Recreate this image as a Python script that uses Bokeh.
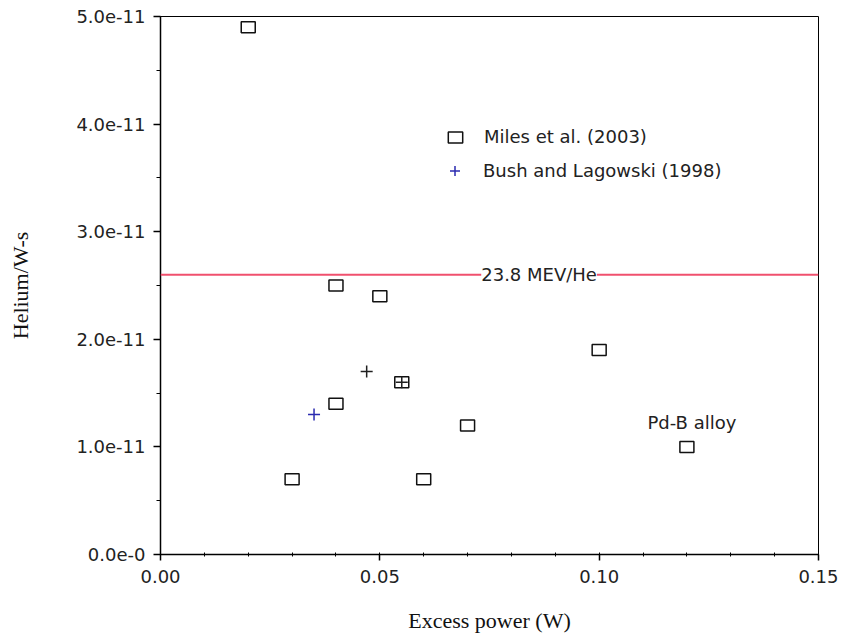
from bokeh.plotting import figure
from bokeh.models import (ColumnDataSource, FixedTicker, Span, Label, Legend,
                          LegendItem, CustomJSTickFormatter)
from bokeh.embed import file_html
from bokeh.resources import INLINE

# ---- data ----
miles_x = [0.02, 0.04, 0.05, 0.04, 0.055, 0.03, 0.06, 0.07, 0.10, 0.12]
miles_y = [4.9e-11, 2.5e-11, 2.4e-11, 1.4e-11, 1.6e-11, 0.7e-11, 0.7e-11, 1.2e-11, 1.9e-11, 1.0e-11]

bush_x = [0.035, 0.047, 0.055]
bush_y = [1.3e-11, 1.7e-11, 1.6e-11]
bush_colors = ["#2b2bb0", "#202020", "#202020"]

he_line_y = 2.6e-11
he_line_label = "23.8 MEV/He"

alloy_label = "Pd-B alloy"
alloy_x = 0.12
alloy_y = 1.0e-11

x_ticks = [0.0, 0.05, 0.10, 0.15]
x_tick_labels = ["0.00", "0.05", "0.10", "0.15"]
x_minor = [0.0, 0.01, 0.02, 0.03, 0.04, 0.05, 0.06, 0.07, 0.08, 0.09, 0.10,
           0.11, 0.12, 0.13, 0.14, 0.15]
y_ticks = [0.0, 1.0e-11, 2.0e-11, 3.0e-11, 4.0e-11, 5.0e-11]
y_tick_labels = ["0.0e-0", "1.0e-11", "2.0e-11", "3.0e-11", "4.0e-11", "5.0e-11"]
y_minor = [0.0, 0.5e-11, 1.0e-11, 1.5e-11, 2.0e-11, 2.5e-11, 3.0e-11, 3.5e-11,
           4.0e-11, 4.5e-11, 5.0e-11]

SANS = "DejaVu Sans"
SERIF = "Liberation Serif"

p = figure(width=838, height=638, x_range=(0, 0.15), y_range=(0, 5e-11),
           output_backend="svg", toolbar_location=None,
           min_border_left=160, min_border_right=20, min_border_top=16,
           min_border_bottom=84)
p.grid.visible = False
p.outline_line_color = "black"
p.outline_line_width = 1
p.background_fill_color = "white"
p.border_fill_color = "white"

fmt_code = """
let best = 0; let bd = Infinity;
for (let i = 0; i < tks.length; i++) {
  const d = Math.abs(tks[i] - tick);
  if (d < bd) { bd = d; best = i; }
}
return lbls[best];
"""

# x axis
xa = p.xaxis[0]
xa.ticker = FixedTicker(ticks=x_ticks, minor_ticks=x_minor)
xa.formatter = CustomJSTickFormatter(args=dict(tks=x_ticks, lbls=x_tick_labels), code=fmt_code)
xa.axis_label = "Excess power (W)"
xa.axis_label_text_font = SERIF
xa.axis_label_text_font_style = "normal"
xa.axis_label_text_font_size = "22px"
xa.axis_label_text_color = "#111111"
xa.axis_label_standoff = 22
xa.major_label_text_font = SANS
xa.major_label_text_font_size = "18px"
xa.major_label_text_color = "#222222"
xa.major_label_standoff = 9
xa.major_tick_out = 6
xa.major_tick_in = 0
xa.minor_tick_out = 2
xa.minor_tick_in = 2
xa.axis_line_width = 1.5
xa.major_tick_line_width = 1.5
xa.minor_tick_line_width = 1

# y axis
ya = p.yaxis[0]
ya.ticker = FixedTicker(ticks=y_ticks, minor_ticks=y_minor)
ya.formatter = CustomJSTickFormatter(args=dict(tks=y_ticks, lbls=y_tick_labels), code=fmt_code)
ya.axis_label = "Helium/W-s"
ya.axis_label_text_font = SERIF
ya.axis_label_text_font_style = "normal"
ya.axis_label_text_font_size = "22px"
ya.axis_label_text_color = "#111111"
ya.axis_label_standoff = 40
ya.major_label_text_font = SANS
ya.major_label_text_font_size = "18px"
ya.major_label_text_color = "#222222"
ya.major_label_standoff = 8
ya.major_tick_out = 7
ya.major_tick_in = 0
ya.minor_tick_out = 4
ya.minor_tick_in = 0
ya.axis_line_width = 1.5
ya.major_tick_line_width = 1.5
ya.minor_tick_line_width = 1

# 23.8 MeV/He line
span = Span(location=he_line_y, dimension="width", line_color="#f0506e", line_width=2)
p.add_layout(span)
p.add_layout(Label(x=0.0863, y=he_line_y, text=he_line_label, text_align="center",
                   text_baseline="middle", text_font=SANS, text_font_size="18px",
                   text_color="#222222", background_fill_color="white",
                   background_fill_alpha=1.0))

# data
miles_src = ColumnDataSource(dict(x=miles_x, y=miles_y))
sq = p.rect(x="x", y="y", width=14, height=11, width_units="screen", height_units="screen",
            source=miles_src, fill_color=None, line_color="#111111", line_width=1.5)

bush_src = ColumnDataSource(dict(x=bush_x, y=bush_y, c=bush_colors))
pl = p.scatter(x="x", y="y", marker="cross", size=12, source=bush_src,
               line_color="c", line_width=1.5)

p.add_layout(Label(x=alloy_x, y=alloy_y, x_offset=5, y_offset=24, text=alloy_label,
                   text_align="center", text_baseline="middle", text_font=SANS,
                   text_font_size="18px", text_color="#222222"))

# legends
leg1 = Legend(items=[LegendItem(label="Miles et al. (2003)", renderers=[sq])],
              location=(286, 407), glyph_width=18, glyph_height=14, label_standoff=20,
              padding=0, margin=0, spacing=0, border_line_color=None,
              background_fill_alpha=0, label_text_font=SANS, label_text_font_size="18px",
              label_text_color="#222222")
leg2 = Legend(items=[LegendItem(label="Bush and Lagowski (1998)", renderers=[pl], index=0)],
              location=(282, 371), glyph_width=25, glyph_height=25, label_standoff=16,
              padding=0, margin=0, spacing=0, border_line_color=None,
              background_fill_alpha=0, label_text_font=SANS, label_text_font_size="18px",
              label_text_color="#222222")
p.add_layout(leg1)
p.add_layout(leg2)

open("out.html", "w").write(file_html(p, INLINE))
